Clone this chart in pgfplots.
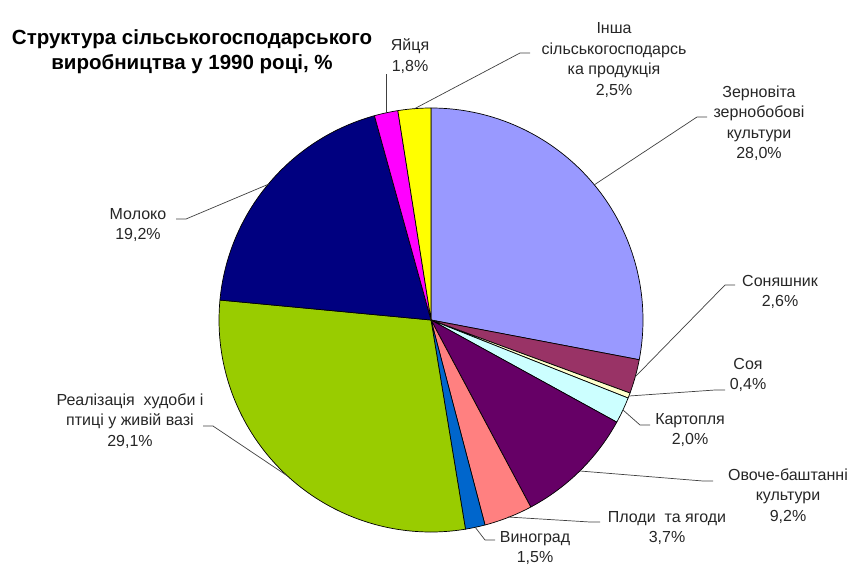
\documentclass[border=0pt]{standalone}
\usepackage{pgfplots}
\pgfplotsset{compat=1.18}
\usepackage{pgfplotstable}
\usepackage{fontspec}
\setmainfont{Liberation Sans}

\definecolor{cZern}{HTML}{9999FF}
\definecolor{cSon}{HTML}{993366}
\definecolor{cSoya}{HTML}{FFFFCC}
\definecolor{cKart}{HTML}{CCFFFF}
\definecolor{cOvoch}{HTML}{660066}
\definecolor{cPlody}{HTML}{FF8080}
\definecolor{cVyn}{HTML}{0066CC}
\definecolor{cReal}{HTML}{99CC00}
\definecolor{cMol}{HTML}{000080}
\definecolor{cYai}{HTML}{FF00FF}
\definecolor{cInsha}{HTML}{FFFF00}

% share of 1990 agricultural production, %
\pgfplotstableread[col sep=comma]{
value,color
28.0,cZern
2.6,cSon
0.4,cSoya
2.0,cKart
9.2,cOvoch
3.7,cPlody
1.5,cVyn
29.1,cReal
19.2,cMol
1.8,cYai
2.5,cInsha
}\piedata

\begin{document}
\begin{tikzpicture}
\begin{axis}[scale only axis, width=866pt, height=583pt,
  xmin=0, xmax=866, ymin=0, ymax=583, y dir=reverse,
  hide axis, clip=false]
\path (axis cs:0,0) (axis cs:866,583);
\def\cum{0}
\pgfplotsforeachungrouped \i in {0,...,10}{%
  \pgfplotstablegetelem{\i}{value}\of\piedata \let\val\pgfplotsretval
  \pgfplotstablegetelem{\i}{color}\of\piedata \let\col\pgfplotsretval
  \pgfmathsetmacro{\sa}{90-3.6*\cum}%
  \pgfmathsetmacro{\newcum}{\cum+\val}%
  \global\let\cum\newcum
  \pgfmathsetmacro{\ea}{90-3.6*\cum}%
  \edef\cmd{\noexpand\filldraw[fill=\col, draw=black, line width=0.7pt, line join=round] (axis cs:431,320) -- +(\sa:212pt) arc[start angle=\sa, end angle=\ea, radius=212pt] -- cycle;}%
  \cmd
}

% leader lines
\begin{scope}[black!75, line width=0.7pt]
\draw (axis cs:386,113) -- (axis cs:386,74);
\draw (axis cs:414,109) -- (axis cs:520,53) -- (axis cs:530,53);
\draw (axis cs:594,185) -- (axis cs:697,117) -- (axis cs:707,117);
\draw (axis cs:635,377) -- (axis cs:725,285) -- (axis cs:735,285);
\draw (axis cs:629,396) -- (axis cs:715,390) -- (axis cs:725,390);
\draw (axis cs:623,410) -- (axis cs:640,425) -- (axis cs:650,425);
\draw (axis cs:580,471) -- (axis cs:703,481) -- (axis cs:713,481);
\draw (axis cs:508,517) -- (axis cs:590,522) -- (axis cs:600,522);
\draw (axis cs:475,527) -- (axis cs:485,540) -- (axis cs:495,540);
\draw (axis cs:286,475) -- (axis cs:213,426) -- (axis cs:203,426);
\draw (axis cs:269,184) -- (axis cs:186,219) -- (axis cs:176,219);
\end{scope}

% labels
\begin{scope}[every node/.style={align=center, text=black!85, font=\fontsize{16}{20.5}\selectfont, inner sep=0pt}]
\node at (axis cs:410,56) {Яйця\\1,8\%};
\node at (axis cs:614,60) {Інша\\сільськогосподарсь\\ка продукція\\2,5\%};
\node at (axis cs:759,123) {Зерновіта\\зернобобові\\культури\\28,0\%};
\node at (axis cs:780,292) {Соняшник\\2,6\%};
\node at (axis cs:748,375) {Соя\\0,4\%};
\node at (axis cs:690,430) {Картопля\\2,0\%};
\node at (axis cs:788,496) {Овоче-баштанні\\культури\\9,2\%};
\node at (axis cs:667,528) {Плоди\ \ та ягоди\\3,7\%};
\node at (axis cs:535,548) {Виноград\\1,5\%};
\node at (axis cs:130,421) {Реалізація\ \ худоби і\\птиці у живій вазі\\29,1\%};
\node at (axis cs:138,225) {Молоко\\19,2\%};
\end{scope}
\node[align=center, font=\bfseries\fontsize{20.5}{25}\selectfont, inner sep=0pt] at (axis cs:192,52) {Структура сільськогосподарського\\виробництва у 1990 році, \%};
\end{axis}
\end{tikzpicture}
\end{document}
